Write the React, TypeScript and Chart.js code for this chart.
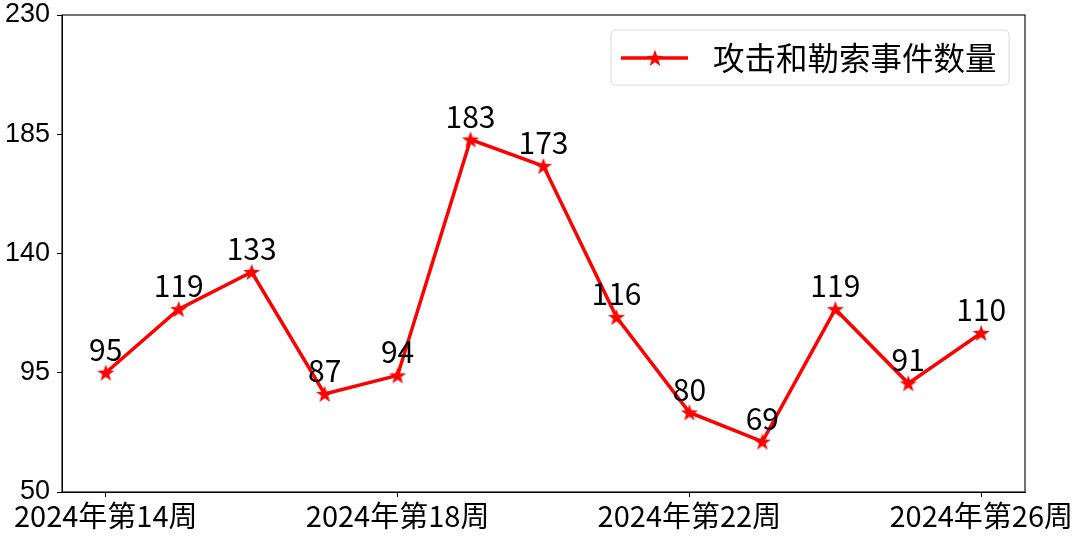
import React, { useEffect, useRef } from "react";
import { Chart, registerables } from "chart.js";

Chart.register(...registerables);

const categories = [
  "2024年第14周", "2024年第15周", "2024年第16周", "2024年第17周", "2024年第18周",
  "2024年第19周", "2024年第20周", "2024年第21周", "2024年第22周", "2024年第23周",
  "2024年第24周", "2024年第25周", "2024年第26周",
];
const values = [95, 119, 133, 87, 94, 183, 173, 116, 80, 69, 119, 91, 110];
const xTickIndices = [0, 4, 8, 12];
const yTicks = [50, 95, 140, 185, 230];
const seriesName = "攻击和勒索事件数量";

const RED = "#ff0000";
const CJK = "'Noto Sans CJK SC', 'Noto Sans', sans-serif";
const LATIN = "'Liberation Sans', Arial, sans-serif";

function makeStar(outer: number, color: string): HTMLCanvasElement {
  const size = Math.ceil(outer * 2 + 2);
  const c = document.createElement("canvas");
  c.width = size;
  c.height = size;
  const ctx = c.getContext("2d")!;
  const cx = size / 2;
  const cy = size / 2 + outer * 0.08;
  const inner = outer * 0.4;
  ctx.beginPath();
  for (let i = 0; i < 10; i++) {
    const r = i % 2 === 0 ? outer : inner;
    const a = -Math.PI / 2 + (i * Math.PI) / 5;
    const x = cx + r * Math.cos(a);
    const y = cy + r * Math.sin(a);
    if (i === 0) ctx.moveTo(x, y);
    else ctx.lineTo(x, y);
  }
  ctx.closePath();
  ctx.fillStyle = color;
  ctx.fill();
  return c;
}

export default function App() {
  const ref = useRef<HTMLCanvasElement | null>(null);

  useEffect(() => {
    document.body.style.margin = "0";
    const star = makeStar(9, RED);

    const framePlugin = {
      id: "frame",
      afterDatasetsDraw(chart: any) {
        const { ctx, chartArea: a } = chart;
        ctx.save();
        ctx.strokeStyle = "#000";
        ctx.lineWidth = 1.1;
        ctx.strokeRect(a.left, a.top, a.right - a.left, a.bottom - a.top);
        ctx.restore();
      },
    };

    const labelPlugin = {
      id: "valueLabels",
      afterDatasetsDraw(chart: any) {
        const { ctx } = chart;
        const meta = chart.getDatasetMeta(0);
        ctx.save();
        ctx.font = `30px ${CJK}`;
        ctx.fillStyle = "#000";
        ctx.textAlign = "center";
        ctx.textBaseline = "alphabetic";
        meta.data.forEach((pt: any, i: number) => {
          ctx.fillText(String(values[i]), pt.x, pt.y - 12);
        });
        ctx.restore();
      },
    };

    const legendPlugin = {
      id: "customLegend",
      afterDraw(chart: any) {
        const { ctx } = chart;
        const x0 = 611, y0 = 30, w = 398, h = 55, r = 5;
        ctx.save();
        ctx.beginPath();
        ctx.moveTo(x0 + r, y0);
        ctx.lineTo(x0 + w - r, y0);
        ctx.quadraticCurveTo(x0 + w, y0, x0 + w, y0 + r);
        ctx.lineTo(x0 + w, y0 + h - r);
        ctx.quadraticCurveTo(x0 + w, y0 + h, x0 + w - r, y0 + h);
        ctx.lineTo(x0 + r, y0 + h);
        ctx.quadraticCurveTo(x0, y0 + h, x0, y0 + h - r);
        ctx.lineTo(x0, y0 + r);
        ctx.quadraticCurveTo(x0, y0, x0 + r, y0);
        ctx.closePath();
        ctx.fillStyle = "rgba(255,255,255,0.8)";
        ctx.fill();
        ctx.strokeStyle = "#d9d9d9";
        ctx.lineWidth = 1;
        ctx.stroke();
        const ly = 58;
        ctx.strokeStyle = RED;
        ctx.lineWidth = 3.5;
        ctx.beginPath();
        ctx.moveTo(621, ly);
        ctx.lineTo(688, ly);
        ctx.stroke();
        ctx.drawImage(star, 655 - star.width / 2, ly - star.height / 2);
        ctx.font = `31.5px ${CJK}`;
        ctx.fillStyle = "#000";
        ctx.textAlign = "left";
        ctx.textBaseline = "middle";
        ctx.fillText(seriesName, 713, ly);
        ctx.restore();
      },
    };

    const chart = new Chart(ref.current!, {
      type: "line",
      data: {
        datasets: [
          {
            label: seriesName,
            data: values.map((v, i) => ({ x: i, y: v })),
            borderColor: RED,
            backgroundColor: RED,
            borderWidth: 3.5,
            pointStyle: star as any,
            pointRadius: 9,
            pointHoverRadius: 9,
            tension: 0,
            fill: false,
          },
        ],
      },
      options: {
        animation: false,
        responsive: false,
        maintainAspectRatio: false,
        events: [],
        layout: { padding: { left: 0, right: 55, top: 15, bottom: 0 } },
        plugins: {
          legend: { display: false },
          tooltip: { enabled: false },
        },
        scales: {
          x: {
            type: "linear",
            min: -0.6,
            max: 12.6,
            afterBuildTicks(axis: any) {
              axis.ticks = xTickIndices.map((v) => ({ value: v }));
            },
            afterFit(axis: any) {
              axis.height = 45;
              axis.paddingLeft = 0;
              axis.paddingRight = 0;
            },
            ticks: {
              autoSkip: false,
              maxRotation: 0,
              minRotation: 0,
              padding: 2,
              color: "#000",
              font: { family: CJK, size: 29 },
              callback: (v: any) => categories[Number(v)] ?? "",
            },
            grid: {
              drawOnChartArea: false,
              drawTicks: true,
              tickLength: 5,
              tickColor: "#000",
            },
            border: { display: true, color: "#000", width: 1 },
          },
          y: {
            type: "linear",
            min: 50,
            max: 230,
            afterBuildTicks(axis: any) {
              axis.ticks = yTicks.map((v) => ({ value: v }));
            },
            afterFit(axis: any) {
              axis.width = 62;
              axis.paddingTop = 0;
              axis.paddingBottom = 0;
            },
            ticks: {
              autoSkip: false,
              padding: 7,
              color: "#000",
              font: { family: LATIN, size: 27 },
            },
            grid: {
              drawOnChartArea: false,
              drawTicks: true,
              tickLength: 5,
              tickColor: "#000",
            },
            border: { display: true, color: "#000", width: 1 },
          },
        },
      },
      plugins: [framePlugin, labelPlugin, legendPlugin],
    });

    return () => chart.destroy();
  }, []);

  return (
    <div style={{ position: "fixed", left: 0, top: 0, width: 1080, height: 537, background: "#fff" }}>
      <canvas ref={ref} width={1080} height={537} style={{ width: 1080, height: 537, display: "block" }} />
    </div>
  );
}
